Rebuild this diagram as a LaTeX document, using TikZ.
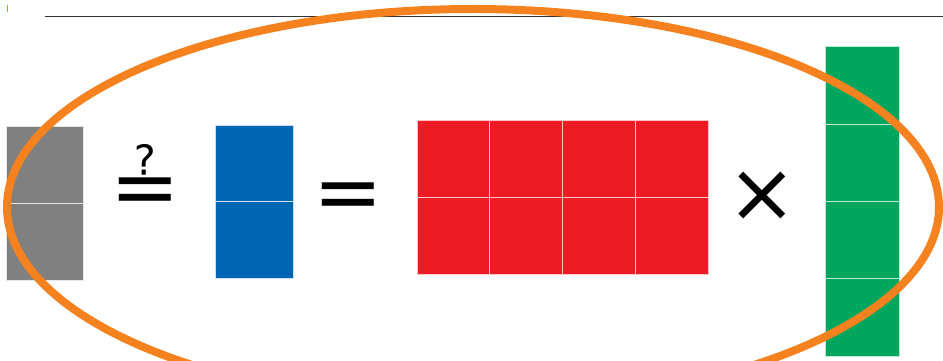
\documentclass[tikz,border=0pt]{standalone}
\usepackage{fontspec}
\newfontfamily\symfont{DejaVu Sans}
\definecolor{cgray}{HTML}{808080}
\definecolor{cblue}{HTML}{0066B3}
\definecolor{cred}{HTML}{ED1C24}
\definecolor{cgreen}{HTML}{00A65E}
\definecolor{corange}{HTML}{F5821F}
\tikzset{
  cell/.style={line width=1pt},
  sym/.style={font=\symfont\fontsize{83}{83}\selectfont, inner sep=0pt, text=black}
}
\begin{document}
\begin{tikzpicture}[x=1pt,y=-1pt]
\useasboundingbox (0,0) rectangle (943,361);
% top line and small mark
\draw[line width=1.2pt, black!80] (45,16.5) -- (943,16.5);
\draw[line width=1.5pt, corange] (7.3,5) -- (7.3,12.5);
% gray
\foreach \y in {126,203}
  \filldraw[cell, fill=cgray, draw=cgray!20!white] (6,\y) rectangle (83,\y+77);
% blue
\foreach \y in {125,201.5}
  \filldraw[cell, fill=cblue, draw=cblue!20!white] (215,\y) rectangle (293,\y+76.5);
% red
\foreach \x in {417,489.75,562.5,635.25}
  \foreach \y in {120,197}
    \filldraw[cell, fill=cred, draw=cred!25!white] (\x,\y) rectangle (\x+72.75,\y+77);
% green
\foreach \y in {47,124.25,201.5,278.75}
  \filldraw[cell, fill=cgreen, draw=cgreen!25!white] (825,\y) rectangle (899,\y+77.25);
% symbols
\node[sym] (q) at (145,180) {≟};
\node[sym] (eq) at (348,202) {=};
\node[sym] (times) at (762,197) {×};
% ellipse
\draw[corange, line width=8pt] (473,207) ellipse [x radius=466, y radius=198];
\end{tikzpicture}
\end{document}
